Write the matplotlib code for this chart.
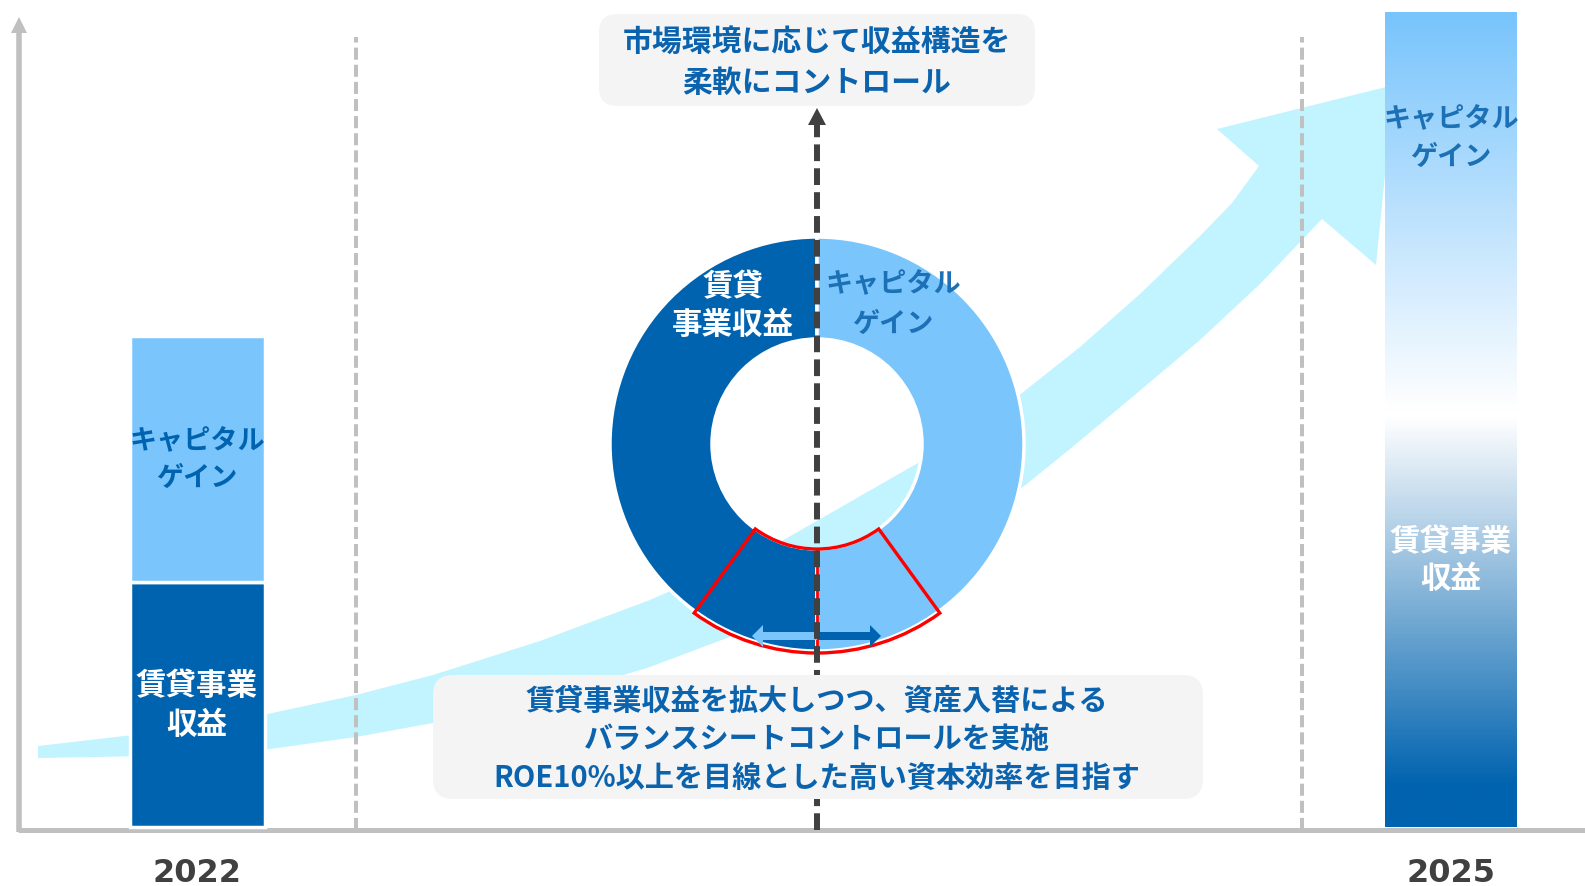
import matplotlib.pyplot as plt
import numpy as np
from matplotlib.colors import LinearSegmentedColormap
from matplotlib.patches import Polygon, FancyBboxPatch, Wedge, FancyArrow

plt.rcParams['font.family'] = ['Noto Sans CJK JP', 'DejaVu Sans']

# --------------------------------------------------
# data
# --------------------------------------------------
years = ['2022', '2025']
year_x = [197, 1451]
rental = [245, 414]          # 賃貸事業収益 (bar height, px above axis)
capital = [246, 401]         # キャピタルゲイン
seg_labels = ['賃貸事業\n収益', 'キャピタル\nゲイン']
donut_share = [50, 50]
donut_labels = ['賃貸\n事業収益', 'キャピタル\nゲイン']
top_note = ['市場環境に応じて収益構造を', '柔軟にコントロール']
bottom_note = ['賃貸事業収益を拡大しつつ、資産入替による',
               'バランスシートコントロールを実施',
               'ROE10%以上を目線とした高い資本効率を目指す']

# growth arrow outline, picture pixels (x, y from top)
arrow_upper = [(38, 746), (150, 733), (263, 715), (356, 695), (433, 675), (540, 641),
               (650, 600), (780, 542), (918, 463), (1022, 393), (1080, 347), (1140, 294),
               (1200, 236), (1232, 203), (1259, 166)]
arrow_head = [(1217, 129), (1394, 85), (1376, 265), (1322, 219)]
arrow_lower = [(1322, 219), (1260, 284), (1200, 340), (1130, 399), (1070, 449),
               (1023, 487), (900, 560), (780, 618), (650, 667), (540, 700),
               (433, 723), (356, 737), (263, 750), (150, 756), (38, 758)]

DARK = '#0063AF'
LIGHT = '#7AC5FC'
CYAN = '#C1F4FF'
GRAY = '#C0C0C0'
TXT = '#0B63AE'
MID = '#1C70B6'
BASE = 827  # axis baseline in picture pixels

fig = plt.figure(figsize=(15.85, 8.86), dpi=100)
ax = fig.add_axes([0, 0, 1, 1])


def stack(x, yc, lines, gap, **kw):
    n = len(lines)
    for i, s in enumerate(lines):
        ax.text(x, yc + ((n - 1) / 2 - i) * gap, s, ha='center', va='center',
                fontweight='bold', **kw)


# growth arrow
pts = np.array(arrow_upper + arrow_head + arrow_lower[1:], dtype=float)
pts[:, 1] = BASE - pts[:, 1]
ax.add_patch(Polygon(pts, closed=True, fc=CYAN, ec='none', zorder=1))

# axes
ax.plot([18, 1585], [-3, -3], color=GRAY, lw=3.6, solid_capstyle='butt', zorder=2)
ax.plot([19, 19], [-5, 794], color=GRAY, lw=4, solid_capstyle='butt', zorder=2)
ax.add_patch(Polygon([(11, 794), (27, 794), (19, 810)], fc=GRAY, ec='none', zorder=2))

# gray period separators
for xs in [356, 1302]:
    ax.plot([xs, xs], [-3, 790], color=GRAY, lw=2.9, dashes=(3, 1.25),
            dash_capstyle='butt', zorder=2)

# 2022 stacked bar
ax.bar(year_x[0], rental[0], width=135, color=DARK, ec='white', lw=2.5, zorder=3)
ax.bar(year_x[0], capital[0], bottom=rental[0], width=135, color=LIGHT,
       ec='white', lw=2.5, zorder=3)

# 2025 bar with gradient fill
b_r = ax.bar(year_x[1], rental[1], width=132, color='none', ec='none', zorder=3)
b_c = ax.bar(year_x[1], capital[1], bottom=rental[1], width=132, color='none',
             ec='none', zorder=3)
top = rental[1] + capital[1]
stops = [(0, DARK), (40 / top, DARK), (410 / top, 'white'), (418 / top, 'white'), (1, '#78C4FC')]
cmap = LinearSegmentedColormap.from_list('grad', stops)
grad = np.linspace(0, 1, 600).reshape(-1, 1)
for patch in [b_r[0], b_c[0]]:
    im = ax.imshow(grad, cmap=cmap, origin='lower', aspect='auto', zorder=3,
                   extent=[year_x[1] - 66, year_x[1] + 66, 0, top])
    im.set_clip_path(patch)

# bar labels
stack(year_x[0], 121.5, seg_labels[0].split('\n'), 39, color='white', fontsize=22, zorder=7)
stack(year_x[0], 367.5, seg_labels[1].split('\n'), 37, color=DARK, fontsize=19.5, zorder=7)
stack(year_x[1], 266.5, seg_labels[0].split('\n'), 37, color='white', fontsize=22, zorder=7)
stack(year_x[1], 689, seg_labels[1].split('\n'), 38, color=MID, fontsize=19.5, zorder=7)

for x, y in zip(year_x, years):
    ax.text(x, -46, y, ha='center', va='center', fontsize=23, fontweight='bold',
            color='#404040', family='DejaVu Sans')

# donut
cx, cy = 817, BASE - 444
ax.pie(donut_share, colors=[DARK, LIGHT], startangle=90, counterclock=True,
       radius=207, center=(cx, cy), frame=True,
       wedgeprops=dict(width=102, edgecolor='white', linewidth=2.5, zorder=3))
stack(733, BASE - 306, donut_labels[0].split('\n'), 38, color='white', fontsize=22, zorder=7)
stack(893, BASE - 304, donut_labels[1].split('\n'), 39, color=MID, fontsize=19.5, zorder=7)

# controllable share (red sector)
ax.add_patch(Wedge((cx, cy), 209, 234, 306, width=104, fc='none', ec='#FF0000',
                   lw=2.4, joinstyle='miter', zorder=4))
ax.plot([cx, cx], [cy - 105, cy - 209], color='#FF0000', lw=2, zorder=4)
ax.add_patch(FancyArrow(cx, 191, -65, 0, width=8, head_width=22, head_length=11,
                        length_includes_head=True, fc=LIGHT, ec='none', zorder=5))
ax.add_patch(FancyArrow(cx, 191, 64, 0, width=8, head_width=22, head_length=11,
                        length_includes_head=True, fc=DARK, ec='none', zorder=5))

# center dashed arrow
ax.plot([cx, cx], [-3, 702], color='#404040', lw=4.3, dashes=(2.8, 1.2),
        dash_capstyle='butt', zorder=5)
ax.add_patch(Polygon([(cx - 9, 702), (cx + 9, 702), (cx, 719)], fc='#404040',
                     ec='none', zorder=5))

# note boxes
ax.add_patch(FancyBboxPatch((599, 721), 436, 92, boxstyle='round,pad=0,rounding_size=18',
                            fc='#F4F4F4', ec='none', zorder=6))
stack(cx, 764.5, top_note, 40.5, color=TXT, fontsize=21.5, zorder=7)
ax.add_patch(FancyBboxPatch((433, 28), 770, 124, boxstyle='round,pad=0,rounding_size=20',
                            fc='#F4F4F4', ec='none', zorder=6))
stack(cx, 88, bottom_note, 38.5, color=TXT, fontsize=21, zorder=7)

ax.set_xlim(0, 1585)
ax.set_ylim(-59, 827)
ax.axis('off')

fig.savefig('out.png', dpi=100)
